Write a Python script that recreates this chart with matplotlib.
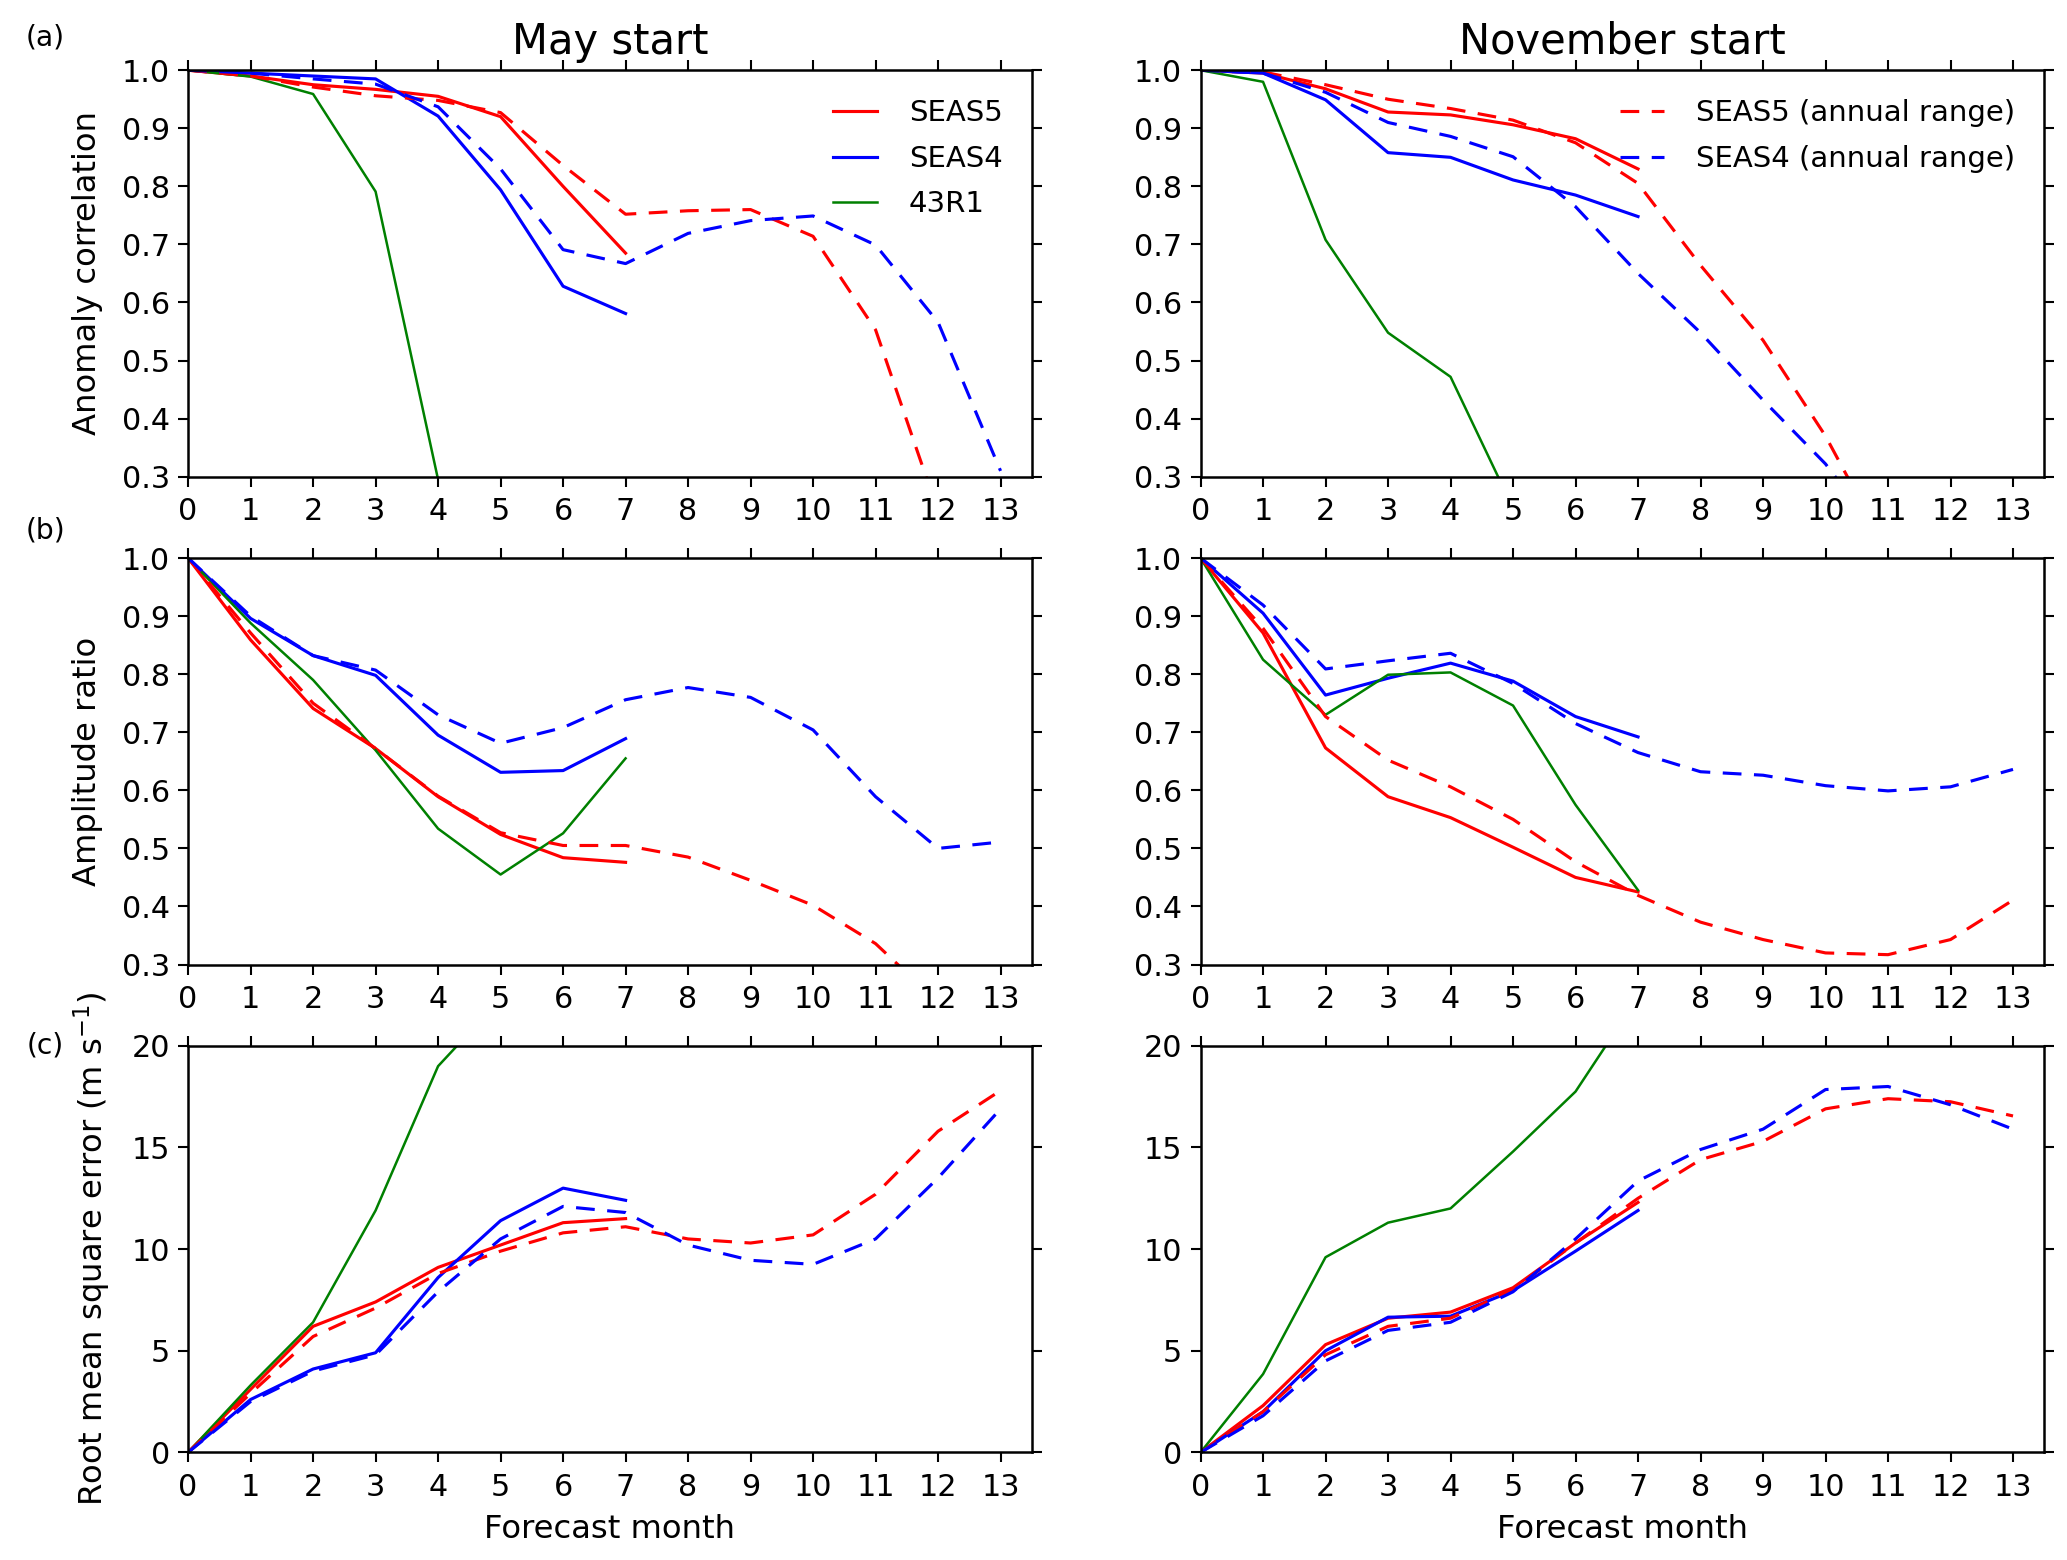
"""Seasonal wind skill - SEAS5 vs SEAS4 vs 43R1, May and November starts."""

import matplotlib

matplotlib.use("Agg")
import matplotlib.pyplot as plt
import numpy as np

RED, BLUE, GREEN = "#FF0000", "#0000FF", "#008000"
plt.rcParams.update(
    {
        "font.family": "DejaVu Sans",
        "font.size": 14,
        "axes.linewidth": 1.2,
        "xtick.direction": "out",
        "ytick.direction": "out",
        "xtick.top": True,
        "ytick.right": True,
        "xtick.major.size": 4.8,
        "ytick.major.size": 4.8,
        "xtick.major.width": 1.0,
        "ytick.major.width": 1.0,
        "xtick.major.pad": 5,
        "ytick.major.pad": 4,
        "xtick.labelsize": 14.5,
        "ytick.labelsize": 14.5,
    }
)

# (a) anomaly correlation
may_ac_s5 = [1.0, 0.99, 0.975, 0.967, 0.955, 0.92, 0.80, 0.685]
may_ac_s5_ann = [1.0, 0.99, 0.971, 0.956, 0.948, 0.927, 0.836, 0.752, 0.758, 0.760, 0.714, 0.553, 0.24]
may_ac_s4 = [1.0, 0.995, 0.99, 0.985, 0.921, 0.794, 0.628, 0.581]
may_ac_s4_ann = [1.0, 0.995, 0.985, 0.976, 0.937, 0.830, 0.691, 0.667, 0.719, 0.741, 0.749, 0.699, 0.566, 0.31]
may_ac_43 = [1.0, 0.989, 0.959, 0.791, 0.295]

nov_ac_s5 = [1.0, 0.995, 0.968, 0.928, 0.923, 0.906, 0.882, 0.830]
nov_ac_s5_ann = [1.0, 0.997, 0.975, 0.950, 0.934, 0.914, 0.875, 0.805, 0.664, 0.535, 0.370, 0.17]
nov_ac_s4 = [1.0, 0.995, 0.949, 0.858, 0.850, 0.811, 0.785, 0.748]
nov_ac_s4_ann = [1.0, 0.995, 0.962, 0.910, 0.886, 0.851, 0.765, 0.650, 0.548, 0.432, 0.322, 0.18]
nov_ac_43 = [1.0, 0.980, 0.708, 0.548, 0.472, 0.246]

# (b) amplitude ratio
may_ar_s5 = [1.0, 0.859, 0.741, 0.672, 0.589, 0.524, 0.484, 0.476]
may_ar_s5_ann = [1.0, 0.871, 0.750, 0.672, 0.590, 0.527, 0.505, 0.505, 0.485, 0.445, 0.402, 0.336, 0.235]
may_ar_s4 = [1.0, 0.896, 0.832, 0.798, 0.695, 0.631, 0.634, 0.689]
may_ar_s4_ann = [1.0, 0.900, 0.832, 0.807, 0.730, 0.681, 0.708, 0.756, 0.777, 0.760, 0.704, 0.589, 0.500, 0.511]
may_ar_43 = [1.0, 0.888, 0.790, 0.669, 0.534, 0.455, 0.526, 0.655]

nov_ar_s5 = [1.0, 0.871, 0.673, 0.589, 0.553, 0.502, 0.450, 0.425]
nov_ar_s5_ann = [1.0, 0.879, 0.727, 0.652, 0.606, 0.550, 0.477, 0.419, 0.373, 0.343, 0.320, 0.317, 0.343, 0.411]
nov_ar_s4 = [1.0, 0.905, 0.764, 0.793, 0.819, 0.788, 0.727, 0.692]
nov_ar_s4_ann = [1.0, 0.919, 0.809, 0.823, 0.836, 0.784, 0.715, 0.665, 0.632, 0.626, 0.608, 0.599, 0.606, 0.636]
nov_ar_43 = [1.0, 0.825, 0.730, 0.799, 0.803, 0.746, 0.575, 0.428]

# (c) rmse, m/s
may_rm_s5 = [0, 3.1, 6.2, 7.4, 9.1, 10.2, 11.3, 11.5]
may_rm_s5_ann = [0, 2.9, 5.7, 7.1, 8.8, 9.9, 10.8, 11.1, 10.5, 10.3, 10.7, 12.7, 15.8, 17.8]
may_rm_s4 = [0, 2.6, 4.1, 4.9, 8.6, 11.4, 13.0, 12.4]
may_rm_s4_ann = [0, 2.5, 4.0, 4.8, 7.9, 10.5, 12.1, 11.8, 10.2, 9.45, 9.25, 10.5, 13.5, 16.9]
may_rm_43 = [0, 3.3, 6.4, 11.9, 19.0, 22.3]

nov_rm_s5 = [0, 2.3, 5.3, 6.6, 6.9, 8.1, 10.3, 12.3]
nov_rm_s5_ann = [0, 2.0, 4.8, 6.2, 6.6, 8.0, 10.3, 12.5, 14.4, 15.3, 16.9, 17.4, 17.25, 16.55]
nov_rm_s4 = [0, 2.0, 5.0, 6.65, 6.7, 7.95, 9.9, 11.9]
nov_rm_s4_ann = [0, 1.8, 4.5, 6.0, 6.4, 7.9, 10.5, 13.35, 14.9, 15.9, 17.85, 18.0, 17.1, 15.9]
nov_rm_43 = [0, 3.85, 9.6, 11.3, 12.0, 14.8, 17.75, 22.4]

rows = [
    ("Anomaly correlation", (0.3, 1.0), np.arange(0.3, 1.01, 0.1),
     [may_ac_s5, may_ac_s4, may_ac_43, may_ac_s5_ann, may_ac_s4_ann],
     [nov_ac_s5, nov_ac_s4, nov_ac_43, nov_ac_s5_ann, nov_ac_s4_ann]),
    ("Amplitude ratio", (0.3, 1.0), np.arange(0.3, 1.01, 0.1),
     [may_ar_s5, may_ar_s4, may_ar_43, may_ar_s5_ann, may_ar_s4_ann],
     [nov_ar_s5, nov_ar_s4, nov_ar_43, nov_ar_s5_ann, nov_ar_s4_ann]),
    (r"Root mean square error (m s$^{-1}$)", (0, 20), [0, 5, 10, 15, 20],
     [may_rm_s5, may_rm_s4, may_rm_43, may_rm_s5_ann, may_rm_s4_ann],
     [nov_rm_s5, nov_rm_s4, nov_rm_43, nov_rm_s5_ann, nov_rm_s4_ann]),
]

names = ["SEAS5", "SEAS4", "43R1", "SEAS5 (annual range)", "SEAS4 (annual range)"]
colors = [RED, BLUE, GREEN, RED, BLUE]
widths = [1.5, 1.5, 1.2, 1.5, 1.5]
dashed = [False, False, False, True, True]

fig, axes = plt.subplots(3, 2, figsize=(13.78, 10.4), dpi=150)
fig.subplots_adjust(left=0.091, right=0.989, top=0.955, bottom=0.069, wspace=0.2, hspace=0.2)

for r, (ylab, ylim, yticks, may, nov) in enumerate(rows):
    for c, series in enumerate([may, nov]):
        ax = axes[r, c]
        lines = []
        for vals, name, col, lw, ds in zip(series, names, colors, widths, dashed):
            kw = dict(dashes=(6, 4)) if ds else {}
            (ln,) = ax.plot(np.arange(len(vals)), vals, color=col, lw=lw, label=name, **kw)
            lines.append(ln)
        ax.set_xlim(0, 13.5)
        ax.set_ylim(*ylim)
        ax.set_xticks(range(14))
        ax.set_yticks(yticks)
        if r < 2:
            ax.set_yticklabels([f"{v:.1f}" for v in yticks])
        if c == 0:
            ax.set_ylabel(ylab, fontsize=15.5, labelpad=9)
        if r == 2:
            ax.set_xlabel("Forecast month", fontsize=15.5, labelpad=6)
        if r == 0:
            ax.set_title(["May start", "November start"][c], fontsize=20, pad=8)
            leg_lines = lines[:3] if c == 0 else lines[3:]
            ax.legend(handles=leg_lines, loc="upper right", frameon=False, fontsize=14,
                      handlelength=1.5, handletextpad=1.1, labelspacing=0.6,
                      borderpad=0.5, borderaxespad=0.5)

for lab, y in zip(["(a)", "(b)", "(c)"], [0.976, 0.660, 0.330]):
    fig.text(0.022, y, lab, fontsize=13.5, ha="center", va="center")

fig.savefig("out.png", dpi=150)
